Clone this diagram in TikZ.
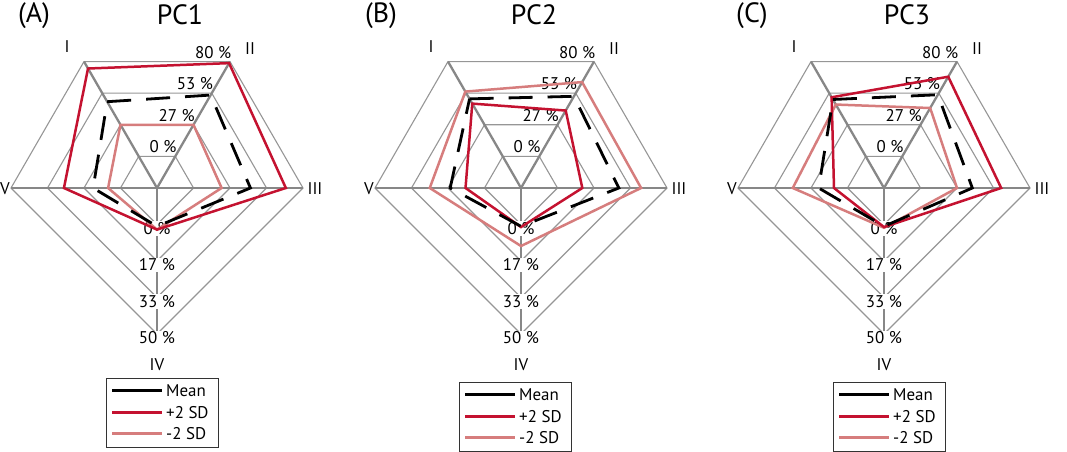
\documentclass[tikz,border=0pt]{standalone}
\usepackage{fontspec}
\setmainfont{PT Sans}
\definecolor{redc}{RGB}{196,18,48}
\definecolor{pinkc}{RGB}{214,125,125}
\definecolor{gridgray}{RGB}{150,150,150}
\definecolor{axisgray}{RGB}{135,135,135}
\newcommand\RU{36.5}
\tikzset{
  ring/.style={draw=gridgray, line width=1.1bp},
  axisline/.style={draw=axisgray, line width=2.3bp},
  pct/.style={font=\fontsize{17}{17}\selectfont, inner sep=0.5bp},
  pctb/.style={pct, fill=white, inner sep=1.2bp},
  roman/.style={font=\fontsize{17}{17}\selectfont},
  ttl/.style={font=\fontsize{28}{28}\selectfont, anchor=base},
  plusl/.style={draw=redc, line width=2.5bp},
  minusl/.style={draw=pinkc, line width=2.5bp},
  meanl/.style={draw=black, line width=2.8bp, dash pattern=on 24bp off 15bp},
  meanleg/.style={draw=black, line width=3bp},
  legbox/.style={draw=black!80, line width=1.3bp},
  legtxt/.style={font=\fontsize{17}{17}\selectfont, anchor=west, inner sep=1bp}
}
\newcommand\radgrid[1]{%
  \foreach \k in {1,2,3,4}{%
    \draw[ring] (120:\k*\RU) -- (60:\k*\RU) -- (0:\k*\RU) -- (-90:\k*\RU) -- (180:\k*\RU) -- cycle;
  }
  \coordinate (#1c) at (0,0);
  \coordinate (#1vI) at (120:4*\RU);
  \coordinate (#1vII) at (60:4*\RU);
  \coordinate (#1vIII) at (0:4*\RU);
  \coordinate (#1vIV) at (-90:4*\RU);
  \coordinate (#1vV) at (180:4*\RU);
  \draw[axisline] (#1vV) -- (#1vIII);
  \draw[axisline] (#1c) -- (#1vI);
  \draw[axisline] (#1c) -- (#1vII);
  \draw[axisline] (#1c) -- (#1vIV);
  \foreach \k/\t/\b in {1/0/0, 2/27/17, 3/53/33, 4/80/50}{%
    \node[pct, anchor=base east, xshift=2bp, yshift=3.5bp] (#1top\k) at (60:\k*\RU) {\t~\%};
    \node[pctb, yshift=-4bp] (#1bot\k) at (-90:\k*\RU) {\b~\%};
  }
  \node[roman] (#1I) at (-90,141) {I};
  \node[roman] (#1II) at (93,139) {II};
  \node[roman] (#1III) at (158,-1) {III};
  \node[roman] (#1IV) at (0,-177) {IV};
  \node[roman] (#1V) at (-152,-1) {V};
}
\newcommand\radpoly[6]{%
  \draw[#1] (120:#2*\RU) -- (60:#3*\RU) -- (0:#4*\RU) -- (-90:#5*\RU) -- (180:#6*\RU) -- cycle;
}
\newcommand\radlegend[3]{% prefix, x, y (top-left, pixels)
  \node[legbox, minimum width=112bp, minimum height=69bp, anchor=north west, inner sep=0pt] (#1leg) at (#2,-#3) {};
  \coordinate (#1ms) at ($(#1leg.north west)+(6,-13)$);
  \coordinate (#1me) at ($(#1leg.north west)+(56,-13)$);
  \coordinate (#1ps) at ($(#1leg.north west)+(6,-35)$);
  \coordinate (#1pe) at ($(#1leg.north west)+(56,-35)$);
  \coordinate (#1ns) at ($(#1leg.north west)+(6,-56)$);
  \coordinate (#1ne) at ($(#1leg.north west)+(56,-56)$);
  \draw[meanleg] (#1ms) -- (#1me);
  \draw[plusl, line width=3bp] (#1ps) -- (#1pe);
  \draw[minusl, line width=3bp] (#1ns) -- (#1ne);
  \node[legtxt] (#1mt) at ($(#1me)+(3,0)$) {Mean};
  \node[legtxt] (#1pt) at ($(#1pe)+(3,0)$) {+2 SD};
  \node[legtxt] (#1nt) at ($(#1ne)+(3,0)$) {-2 SD};
}
\usetikzlibrary{calc}
\begin{document}
\begin{tikzpicture}[x=1bp,y=1bp]
\useasboundingbox (0,-452) rectangle (1067,0);
% titles
\node[ttl] (tA) at (34,-23) {(A)};
\node[ttl] (tPA) at (180,-25) {PC1};
\node[ttl] (tB) at (381,-23) {(B)};
\node[ttl] (tPB) at (534,-25) {PC2};
\node[ttl] (tC) at (752,-23) {(C)};
\node[ttl] (tPC) at (907,-25) {PC3};
% panel A
\begin{scope}[shift={(157,-188)}]
  \radgrid{a}
  \radpoly{minusl}{2.0}{2.0}{1.77}{1.14}{1.34}
  \radpoly{plusl}{3.78}{3.95}{3.53}{1.14}{2.55}
  \radpoly{meanl}{2.73}{2.94}{2.56}{1.05}{1.75}
\end{scope}
% panel B
\begin{scope}[shift={(521,-188)}]
  \radgrid{b}
  \radpoly{minusl}{3.05}{3.35}{3.29}{1.59}{2.5}
  \radpoly{plusl}{2.67}{2.45}{1.68}{1.07}{1.52}
  \radpoly{meanl}{2.82}{2.9}{2.68}{1.05}{1.94}
\end{scope}
% panel C
\begin{scope}[shift={(884,-188)}]
  \radgrid{c}
  \radpoly{minusl}{2.64}{2.53}{2.0}{1.09}{2.5}
  \radpoly{plusl}{2.87}{3.52}{3.21}{1.07}{1.37}
  \radpoly{meanl}{2.8}{2.95}{2.42}{1.05}{1.79}
\end{scope}
% legends
\radlegend{a}{106}{378}
\radlegend{b}{459}{382}
\radlegend{c}{833}{382}
\end{tikzpicture}
\end{document}
